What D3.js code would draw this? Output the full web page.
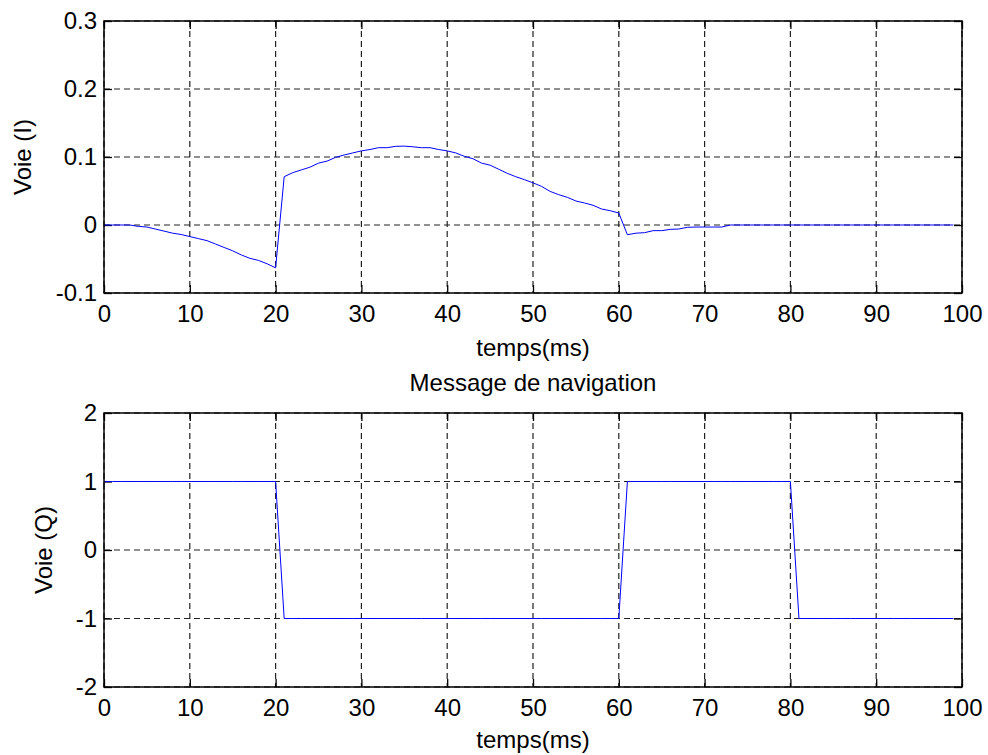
<!DOCTYPE html>
<html>
<head>
<meta charset="utf-8">
<script src="https://cdn.jsdelivr.net/npm/d3@7"></script>
<style>
  body { margin: 0; background: #fff; }
  svg { display: block; }
  text { font-family: "Liberation Sans", Arial, sans-serif; fill: #000; }
</style>
</head>
<body>
<svg id="chart"></svg>
<script>
// time axis, 1 ms steps
const tempsMs = [
  0, 1, 2, 3, 4, 5, 6, 7, 8, 9, 10, 11, 12, 13, 14, 15, 16, 17, 18, 19,
  20, 21, 22, 23, 24, 25, 26, 27, 28, 29, 30, 31, 32, 33, 34, 35, 36, 37, 38, 39,
  40, 41, 42, 43, 44, 45, 46, 47, 48, 49, 50, 51, 52, 53, 54, 55, 56, 57, 58, 59,
  60, 61, 62, 63, 64, 65, 66, 67, 68, 69, 70, 71, 72, 73, 74, 75, 76, 77, 78, 79,
  80, 81, 82, 83, 84, 85, 86, 87, 88, 89, 90, 91, 92, 93, 94, 95, 96, 97, 98, 99
];

// voie I
const voieI = [
  0, 0, 0, 0, -0.002, -0.003, -0.006, -0.009, -0.012, -0.014,
  -0.017, -0.020, -0.023, -0.028, -0.033, -0.038, -0.044, -0.049, -0.052, -0.057,
  -0.063, 0.071, 0.077, 0.081, 0.085, 0.091, 0.094, 0.0995, 0.103, 0.106,
  0.109, 0.111, 0.1137, 0.1137, 0.1157, 0.116, 0.115, 0.1137, 0.1137, 0.111,
  0.109, 0.106, 0.101, 0.0975, 0.091, 0.088, 0.082, 0.076, 0.071, 0.0667,
  0.062, 0.0568, 0.0494, 0.0446, 0.0407, 0.0353, 0.0324, 0.029, 0.0235, 0.021,
  0.0176, -0.0143, -0.012, -0.0113, -0.0083, -0.0083, -0.0064, -0.0059, -0.0034, -0.003,
  -0.003, -0.003, -0.003, 0, 0, 0, 0, 0, 0, 0,
  0, 0, 0, 0, 0, 0, 0, 0, 0, 0,
  0, 0, 0, 0, 0, 0, 0, 0, 0, 0
];

// voie Q (navigation message bits)
const voieQ = [
  1, 1, 1, 1, 1, 1, 1, 1, 1, 1, 1, 1, 1, 1, 1, 1, 1, 1, 1, 1,
  1, -1, -1, -1, -1, -1, -1, -1, -1, -1, -1, -1, -1, -1, -1, -1, -1, -1, -1, -1,
  -1, -1, -1, -1, -1, -1, -1, -1, -1, -1, -1, -1, -1, -1, -1, -1, -1, -1, -1, -1,
  -1, 1, 1, 1, 1, 1, 1, 1, 1, 1, 1, 1, 1, 1, 1, 1, 1, 1, 1, 1,
  1, -1, -1, -1, -1, -1, -1, -1, -1, -1, -1, -1, -1, -1, -1, -1, -1, -1, -1, -1
];

const xTicks = [0, 10, 20, 30, 40, 50, 60, 70, 80, 90, 100];
const yTicksI = [-0.1, 0, 0.1, 0.2, 0.3];
const yTicksQ = [-2, -1, 0, 1, 2];

const svg = d3.select('#chart')
  .attr('width', 988)
  .attr('height', 755);

class SignalPanel {
  constructor(_config) {
    this.config = {
      left: _config.left,
      top: _config.top,
      width: _config.width,
      height: _config.height,
      yDomain: _config.yDomain,
      yTicks: _config.yTicks,
      yLabel: _config.yLabel,
      yLabelX: _config.yLabelX,
      xLabelOffset: _config.xLabelOffset,
      title: _config.title || null
    };
    this.x = _config.x;
    this.y = _config.y;
    this.initVis();
  }

  initVis() {
    let vis = this;
    const c = vis.config;

    vis.xScale = d3.scaleLinear().domain([0, 100]).range([0, c.width]);
    vis.yScale = d3.scaleLinear().domain(c.yDomain).range([c.height, 0]);

    vis.chart = svg.append('g')
      .attr('transform', `translate(${c.left},${c.top})`);

    // dashed grid
    const grid = vis.chart.append('g')
      .attr('stroke', '#222')
      .attr('stroke-width', 1.2)
      .attr('stroke-dasharray', '6,4');
    grid.selectAll('.vgrid')
      .data(xTicks)
      .join('line')
      .attr('class', 'vgrid')
      .attr('x1', d => vis.xScale(d))
      .attr('x2', d => vis.xScale(d))
      .attr('y1', 0)
      .attr('y2', c.height);
    grid.selectAll('.hgrid')
      .data(c.yTicks)
      .join('line')
      .attr('class', 'hgrid')
      .attr('x1', 0)
      .attr('x2', c.width)
      .attr('y1', d => vis.yScale(d))
      .attr('y2', d => vis.yScale(d));

    const fmt = d => String(d);

    // axes, ticks pointing inward (matlab style)
    const xBottom = vis.chart.append('g')
      .attr('transform', `translate(0,${c.height})`)
      .call(d3.axisBottom(vis.xScale).tickValues(xTicks).tickFormat(fmt)
        .tickSizeInner(-8).tickSizeOuter(0).tickPadding(12));
    vis.chart.append('g')
      .call(d3.axisTop(vis.xScale).tickValues(xTicks).tickFormat('')
        .tickSizeInner(-8).tickSizeOuter(0));
    const yLeft = vis.chart.append('g')
      .call(d3.axisLeft(vis.yScale).tickValues(c.yTicks).tickFormat(fmt)
        .tickSizeInner(-8).tickSizeOuter(0).tickPadding(7));
    vis.chart.append('g')
      .attr('transform', `translate(${c.width},0)`)
      .call(d3.axisRight(vis.yScale).tickValues(c.yTicks).tickFormat('')
        .tickSizeInner(-8).tickSizeOuter(0));

    vis.chart.selectAll('.domain').remove();
    vis.chart.selectAll('.tick line').attr('stroke', '#000').attr('stroke-width', 1.3);
    xBottom.selectAll('text').style('font-size', '24px').attr('fill', '#000');
    yLeft.selectAll('text').style('font-size', '24px').attr('fill', '#000');

    // signal
    const line = d3.line()
      .x((d, i) => vis.xScale(vis.x[i]))
      .y(d => vis.yScale(d));
    vis.chart.append('path')
      .datum(vis.y)
      .attr('fill', 'none')
      .attr('stroke', '#0000ff')
      .attr('stroke-width', 1)
      .attr('d', line);

    // box
    vis.chart.append('rect')
      .attr('width', c.width)
      .attr('height', c.height)
      .attr('fill', 'none')
      .attr('stroke', '#000')
      .attr('stroke-width', 1.5);

    // labels
    vis.chart.append('text')
      .attr('x', c.width / 2)
      .attr('y', c.height + c.xLabelOffset)
      .attr('text-anchor', 'middle')
      .style('font-size', '24px')
      .text('temps(ms)');

    vis.chart.append('text')
      .attr('transform', `translate(${c.yLabelX},${c.height / 2}) rotate(-90)`)
      .attr('text-anchor', 'middle')
      .style('font-size', '24px')
      .text(c.yLabel);

    if (c.title) {
      vis.chart.append('text')
        .attr('x', c.width / 2)
        .attr('y', -22)
        .attr('text-anchor', 'middle')
        .style('font-size', '24px')
        .text(c.title);
    }
  }
}

new SignalPanel({
  left: 104, top: 21, width: 858, height: 272,
  yDomain: [-0.1, 0.3], yTicks: yTicksI,
  yLabel: 'Voie (I)', yLabelX: -73, xLabelOffset: 63,
  x: tempsMs, y: voieI
});

new SignalPanel({
  left: 104, top: 413, width: 858, height: 274,
  yDomain: [-2, 2], yTicks: yTicksQ,
  yLabel: 'Voie (Q)', yLabelX: -52, xLabelOffset: 61,
  title: 'Message de navigation',
  x: tempsMs, y: voieQ
});
</script>
</body>
</html>
